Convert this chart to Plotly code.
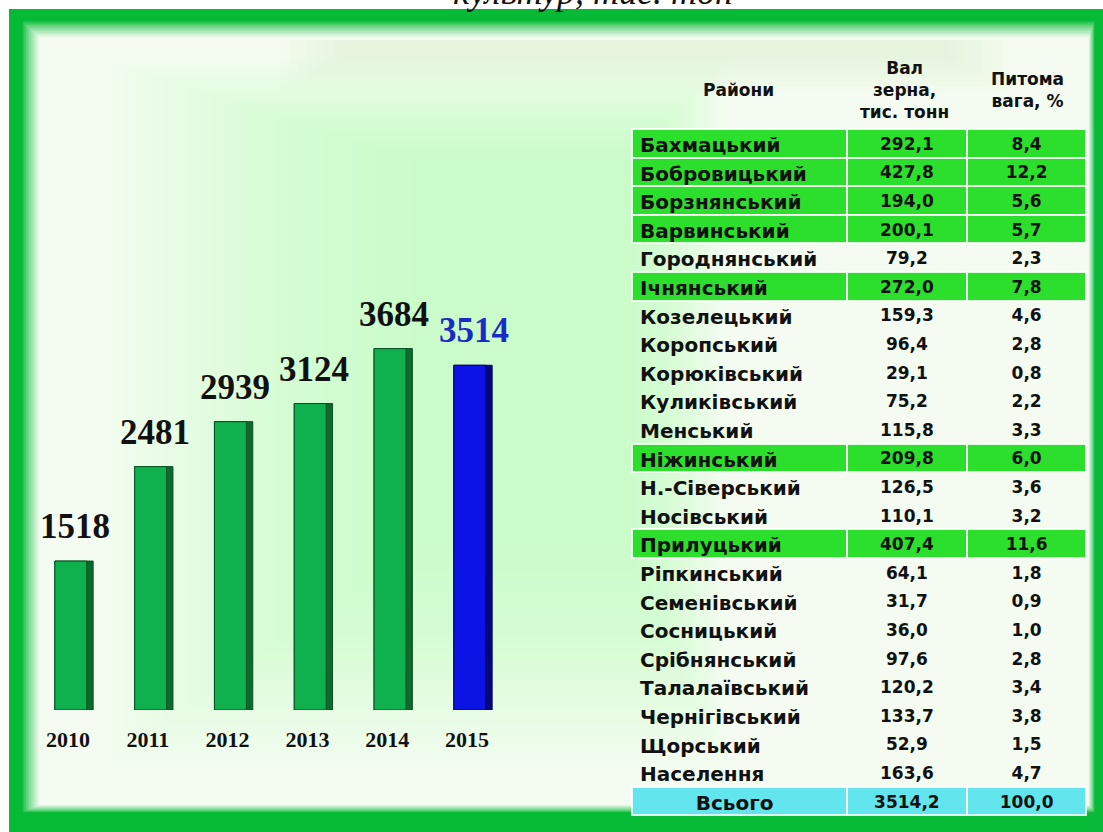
import plotly.graph_objects as go

W, H = 1103, 832

# ---------------- data ----------------
years = [2010, 2011, 2012, 2013, 2014, 2015]
harvest = [1518, 2481, 2939, 3124, 3684, 3514]

districts = ["Бахмацький", "Бобровицький", "Борзнянський", "Варвинський",
             "Городнянський", "Ічнянський", "Козелецький", "Коропський",
             "Корюківський", "Куликівський", "Менський", "Ніжинський",
             "Н.-Сіверський", "Носівський", "Прилуцький", "Ріпкинський",
             "Семенівський", "Сосницький", "Срібнянський", "Талалаївський",
             "Чернігівський", "Щорський", "Населення"]
grain = [292.1, 427.8, 194.0, 200.1, 79.2, 272.0, 159.3, 96.4, 29.1, 75.2,
         115.8, 209.8, 126.5, 110.1, 407.4, 64.1, 31.7, 36.0, 97.6, 120.2,
         133.7, 52.9, 163.6]
share = [8.4, 12.2, 5.6, 5.7, 2.3, 7.8, 4.6, 2.8, 0.8, 2.2, 3.3, 6.0, 3.6,
         3.2, 11.6, 1.8, 0.9, 1.0, 2.8, 3.4, 3.8, 1.5, 4.7]
total_label = "Всього"
total_grain = 3514.2
total_share = 100.0

header_labels = ["Райони", "Вал<br>зерна,<br>тис. тонн", "Питома<br>вага, %"]
title_fragment = "культур, тис. тон"


def px(x):
    return x / W


def py(y):
    return 1 - y / H


def fmt(v):
    return f"{v:.1f}".replace(".", ",")


def mix(c1, c2, t):
    a = [int(c1[i:i + 2], 16) for i in (1, 3, 5)]
    b = [int(c2[i:i + 2], 16) for i in (1, 3, 5)]
    return "#" + "".join(f"{round(a[k] + (b[k] - a[k]) * t):02x}" for k in range(3))


fig = go.Figure()

# ---------------- background frame ----------------
shapes = []
FRAME = "#06ba36"
BG = "#f4fcf1"


def rect(x0, y0, x1, y1, color, opacity=1.0):
    shapes.append(dict(type="rect", xref="paper", yref="paper",
                       x0=px(x0), x1=px(x1), y0=py(y1), y1=py(y0),
                       fillcolor=color, opacity=opacity,
                       line=dict(width=0), layer="below"))


rect(9, 9, W + 2, H + 2, FRAME)
outer = (21, 20, 1095, 813)
inner = (41, 39, 1088, 804)
steps = 12
for s in range(steps + 1):
    t = s / steps
    x0 = outer[0] + (inner[0] - outer[0]) * t
    y0 = outer[1] + (inner[1] - outer[1]) * t
    x1 = outer[2] + (inner[2] - outer[2]) * t
    y1 = outer[3] + (inner[3] - outer[3]) * t
    rect(x0, y0, x1, y1, mix(FRAME, BG, min(1, (t ** 0.8) * 1.1)))

# soft green haze behind the bars
for k in range(26):
    rect(100 + k * 12.5, 60 + k * 4, 725 - k * 4, 770 - k * 9, "#b2f0a4", 0.024)
for k in range(8):
    rect(280 + k * 9, 40, 1010 - k * 9, 92 - k * 5, "#c6f2bc", 0.045)

# ---------------- bars ----------------
HI_BAR = len(years) - 1
front_col = ["#0fb04e" if i != HI_BAR else "#0b14e4" for i in range(len(years))]
side_col = ["#0a6b2b" if i != HI_BAR else "#02087c" for i in range(len(years))]
edge_col = ["#0a4f22" if i != HI_BAR else "#020660" for i in range(len(years))]

fig.add_trace(go.Bar(x=years, y=harvest, width=0.48, offset=-0.24,
                     marker=dict(color=side_col, line=dict(color=edge_col, width=1)),
                     hoverinfo="skip", showlegend=False))
fig.add_trace(go.Bar(x=years, y=harvest, width=0.40, offset=-0.24,
                     marker=dict(color=front_col, line=dict(color=edge_col, width=1)),
                     hoverinfo="x+y", showlegend=False))

annotations = []
for i, (yr, v) in enumerate(zip(years, harvest)):
    annotations.append(dict(
        x=yr, y=v, xref="x", yref="y", text=str(v), showarrow=False,
        yanchor="bottom", yshift=13, xshift=1,
        font=dict(family="Liberation Serif", size=35, weight="bold",
                  color="#1a2cc4" if i == HI_BAR else "#111111")))

# cut-off title at the very top
annotations.append(dict(
    x=px(593), y=1, xref="paper", yref="paper", text=title_fragment,
    showarrow=False, yanchor="middle", yshift=8,
    font=dict(family="Liberation Serif", size=36, style="italic", color="#111111")))

# table header texts
header_x = [738, 904, 1027]
for hx, lab in zip(header_x, header_labels):
    annotations.append(dict(
        x=px(hx), y=py(90), xref="paper", yref="paper", text=lab,
        showarrow=False, xanchor="center", yanchor="middle", align="center",
        font=dict(family="DejaVu Sans", size=17, weight="bold", color="#111111")))

# ---------------- table ----------------
n = len(districts)
hi = [s >= 5 for s in share]
GREEN = "#2ddf2d"
CYAN = "#62e5ec"
NONE = "rgba(0,0,0,0)"
SEP = "rgba(255,255,255,0.85)"

# the total row label is centred in its column with non-breaking spaces
col_names = districts + ["\u00a0" * 8 + total_label]
col_grain = [fmt(v) for v in grain] + [fmt(total_grain)]
col_share = [fmt(v) for v in share] + [fmt(total_share)]

row_fill = [GREEN if h else NONE for h in hi] + [CYAN]
row_line = [SEP if h else NONE for h in hi] + [SEP]

fig.add_trace(go.Table(
    domain=dict(x=[px(632), px(1087)], y=[0, py(51)]),
    columnwidth=[215, 121, 119],
    header=dict(values=["", "", ""], height=78,
                fill=dict(color=NONE), line=dict(color=NONE, width=0)),
    cells=dict(values=[col_names, col_grain, col_share], height=28.6,
               fill=dict(color=[row_fill, row_fill, row_fill]),
               line=dict(color=[row_line, row_line, row_line], width=2),
               align=["left", "center", "center"],
               font=dict(family="DejaVu Sans", weight="bold",
                         size=[20, 17, 17], color="#111111")),
))

# ---------------- layout ----------------
x_left = 2010 - 74 / 79.8
x_right = 2010 + (620 - 74) / 79.8
fig.update_layout(
    width=W, height=H, autosize=False,
    margin=dict(l=0, r=0, t=0, b=0),
    paper_bgcolor="#ffffff", plot_bgcolor="rgba(0,0,0,0)",
    barmode="overlay", showlegend=False,
    shapes=shapes, annotations=annotations,
    xaxis=dict(domain=[0, px(620)], range=[x_left, x_right],
               tickvals=years, ticktext=[str(y) for y in years],
               tickfont=dict(family="Liberation Serif", size=22, weight="bold",
                             color="#111111"),
               ticks="", ticklabelshift=-6, ticklabelstandoff=14,
               showgrid=False, zeroline=False, showline=False, fixedrange=True),
    yaxis=dict(domain=[py(710), py(40)], range=[0, 670 / 0.0981],
               visible=False, showgrid=False, zeroline=False, fixedrange=True),
)

fig.write_html("out.html", config={"displayModeBar": False},
               post_script="document.body.style.margin='0px';"
                           "document.body.style.overflow='hidden';")
